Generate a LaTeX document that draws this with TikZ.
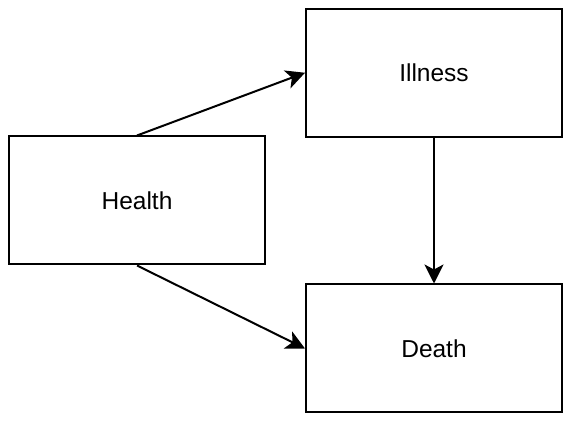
\documentclass[tikz,border=0pt]{standalone}
\usepackage{fontspec}
\setmainfont{Liberation Sans}
\usetikzlibrary{arrows.meta}
\begin{document}
\begin{tikzpicture}[x=1pt,y=-1pt,
  statebox/.style={draw=black, line width=2pt, minimum width=256pt, minimum height=128pt, inner sep=0pt, font=\fontsize{24.5}{28}\selectfont},
  conn/.style={line width=2pt, -{Stealth[length=19pt,width=19pt,inset=5pt]}}]
\useasboundingbox (0,0) rectangle (571,422);
\node[statebox] (health) at (137,200.5) {Health};
\node[statebox] (illness) at (434,72.75) {Illness};
\node[statebox] (death) at (434,348.5) {Death};
\draw[conn] (health.north) -- (illness.west);
\draw[conn] (health.south) -- (death.west);
\draw[conn] (illness.south) -- (death.north);
\end{tikzpicture}
\end{document}
